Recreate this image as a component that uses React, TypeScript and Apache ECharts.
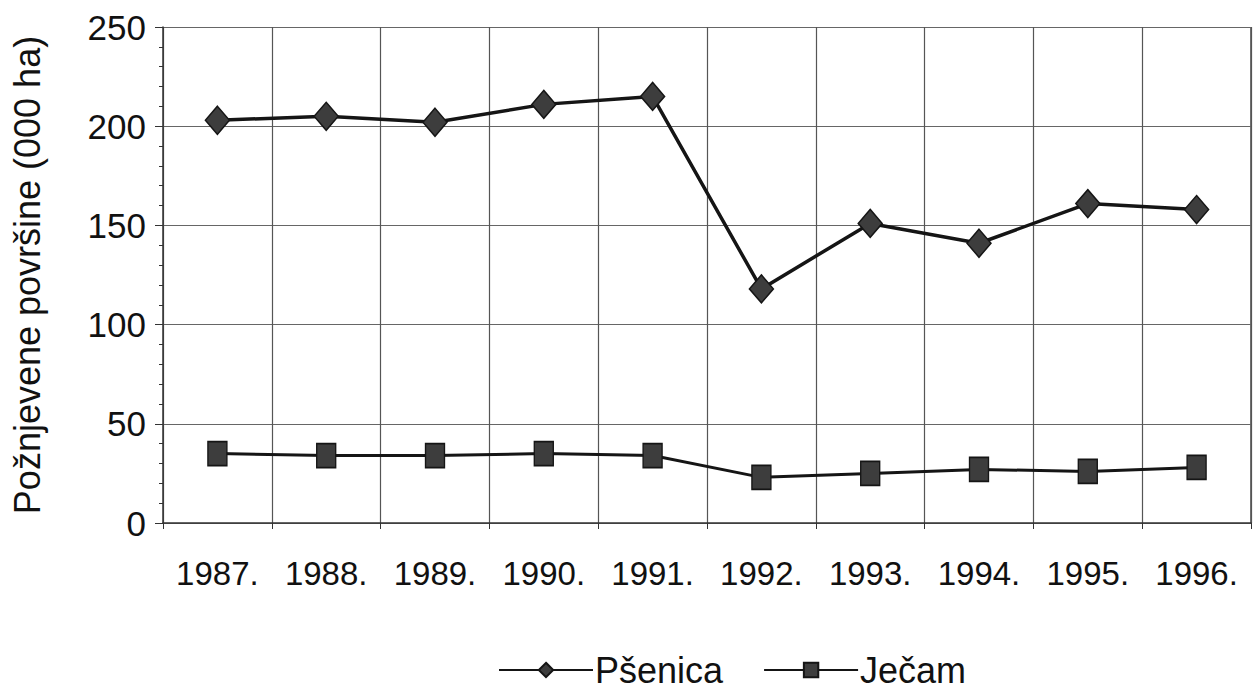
import React, { useEffect, useRef } from "react";
import * as echarts from "echarts";

const years = ["1987.", "1988.", "1989.", "1990.", "1991.", "1992.", "1993.", "1994.", "1995.", "1996."];
const psenica = [203, 205, 202, 211, 215, 118, 151, 141, 161, 158];
const jecam = [35, 34, 34, 35, 34, 23, 25, 27, 26, 28];
const yTitle = "Požnjevene površine (000 ha)";
const FONT = "'Liberation Sans', Arial, sans-serif";

export default function App() {
  const ref = useRef<HTMLDivElement>(null);
  useEffect(() => {
    if (!ref.current) return;
    const chart = echarts.init(ref.current, undefined, { renderer: "svg" });
    chart.setOption({
      animation: false,
      backgroundColor: "#ffffff",
      textStyle: { fontFamily: FONT },
      grid: { left: 163, right: 5, top: 27, bottom: 167, containLabel: false },
      legend: {
        left: 493,
        top: 646,
        itemWidth: 94,
        itemHeight: 18,
        itemGap: 40,
        textStyle: { fontFamily: FONT, fontSize: 36, lineHeight: 38, color: "#111", padding: [0, 0, 0, -3] },
        data: ["Pšenica", "Ječam"],
      },
      xAxis: {
        type: "category",
        data: years,
        boundaryGap: true,
        axisLine: { show: true, lineStyle: { color: "#333", width: 1.5 } },
        axisTick: { show: true, interval: 0, length: 6, lineStyle: { color: "#333" } },
        axisLabel: { interval: 0, fontFamily: FONT, fontSize: 33, color: "#111", margin: 34 },
        splitLine: { show: true, interval: 0, lineStyle: { color: "#555", width: 1.2 } },
      },
      yAxis: {
        type: "value",
        min: 0,
        max: 250,
        interval: 50,
        name: yTitle,
        nameLocation: "middle",
        nameGap: 118,
        nameRotate: 90,
        nameTextStyle: { fontFamily: FONT, fontSize: 36, color: "#111" },
        axisLine: { show: true, lineStyle: { color: "#333", width: 1.5 } },
        axisTick: { show: true, length: 8, lineStyle: { color: "#333" } },
        minorTick: { show: true, splitNumber: 5, length: 4, lineStyle: { color: "#333" } },
        axisLabel: { fontFamily: FONT, fontSize: 35, color: "#111", margin: 17 },
        splitLine: { show: true, lineStyle: { color: "#666", width: 1.2 } },
      },
      graphic: [
        {
          type: "line",
          shape: { x1: 1251, y1: 27, x2: 1251, y2: 523 },
          style: { stroke: "#444", lineWidth: 1.5 },
        },
      ],
      series: [
        {
          name: "Pšenica",
          type: "line",
          data: psenica,
          symbol: "diamond",
          symbolSize: [24, 28],
          lineStyle: { color: "#151515", width: 3.5 },
          itemStyle: { color: "#3d3d3d", borderColor: "#151515", borderWidth: 1.5 },
        },
        {
          name: "Ječam",
          type: "line",
          data: jecam,
          symbol: "rect",
          symbolSize: [19, 24],
          lineStyle: { color: "#151515", width: 3 },
          itemStyle: { color: "#3d3d3d", borderColor: "#151515", borderWidth: 1.5 },
        },
      ],
    });
    return () => chart.dispose();
  }, []);
  return (
    <div
      ref={ref}
      style={{ position: "fixed", left: 0, top: 0, width: 1256, height: 690, background: "#fff" }}
    />
  );
}
